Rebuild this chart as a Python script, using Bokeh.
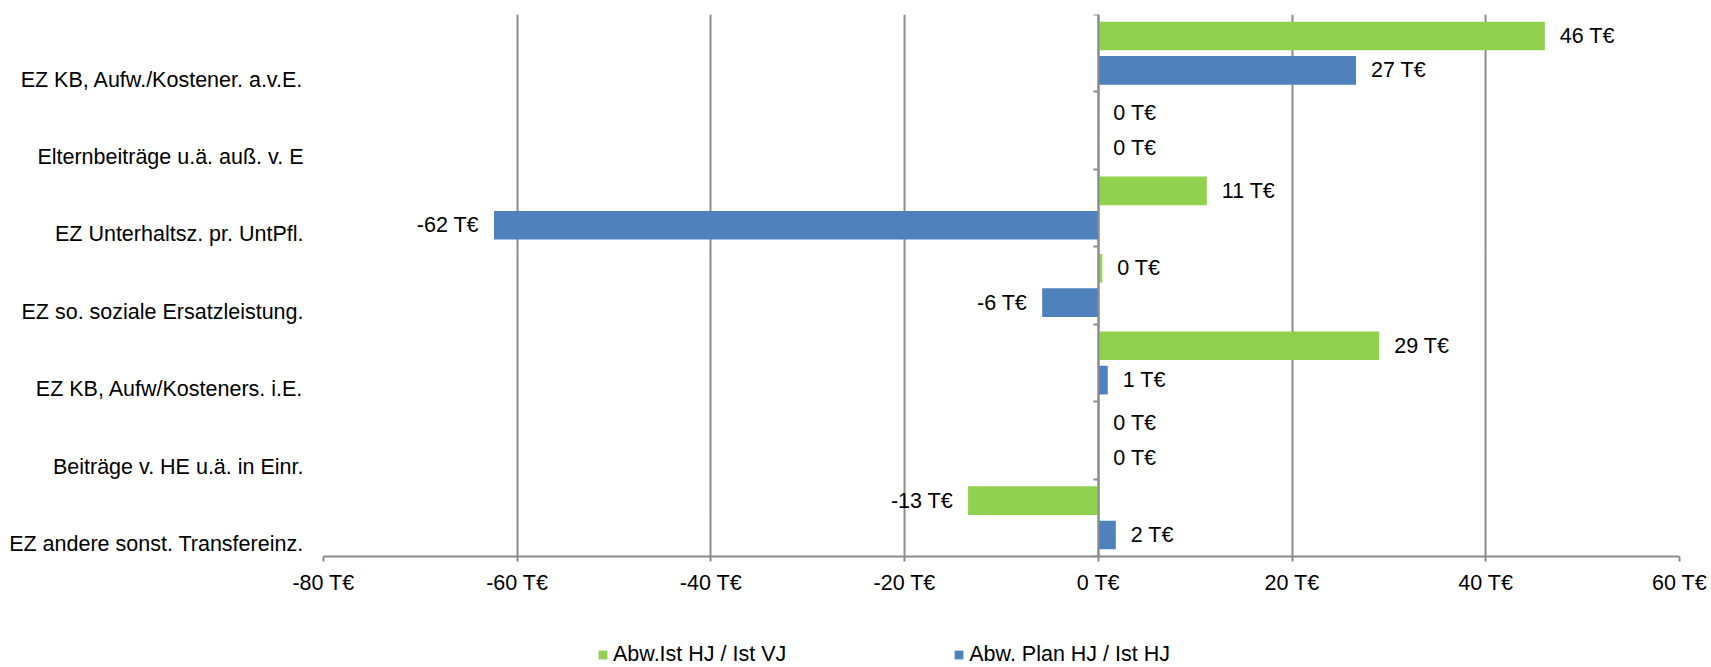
from bokeh.plotting import figure
from bokeh.models import (Range1d, FixedTicker, LinearAxis, Legend, LegendItem,
                          ColumnDataSource)
from bokeh.layouts import column
from bokeh.core.properties import value
from bokeh.embed import file_html
from bokeh.resources import INLINE

# ---- data ----
categories = [
    "EZ KB, Aufw./Kostener. a.v.E.",
    "Elternbeiträge u.ä. auß. v. E",
    "EZ Unterhaltsz. pr. UntPfl.",
    "EZ so. soziale Ersatzleistung.",
    "EZ KB, Aufw/Kosteners. i.E.",
    "Beiträge v. HE u.ä. in Einr.",
    "EZ andere sonst. Transfereinz.",
]
series_names = ["Abw.Ist HJ / Ist VJ", "Abw. Plan HJ / Ist HJ"]
ist_vj = [46.1, 0.0, 11.2, 0.4, 29.0, 0.0, -13.45]      # green
plan_hj = [26.6, 0.0, -62.4, -5.8, 0.97, 0.0, 1.8]      # blue
x_ticks = [-80, -60, -40, -20, 0, 20, 40, 60]

GREEN = "#92D050"
BLUE = "#4F81BD"
GRID = "#8c8c8c"
FONT = "Liberation Sans"
FS = "21.5px"

n = len(categories)
idx = list(range(n))
OFF = 0.222
BAR_H = 0.37
LABEL_SHIFT = 0.34

W = 1711
BL, BR = 323, 32
p = figure(width=W, height=611, output_backend="svg", toolbar_location=None,
           x_range=Range1d(x_ticks[0], x_ticks[-1]),
           y_range=Range1d(n - 0.5, -0.5),
           min_border_left=BL, min_border_right=BR, min_border_top=14,
           min_border_bottom=55, y_axis_location=None, x_axis_location=None)
p.outline_line_color = None

def label_text(vals):
    return [f"{round(v):.0f} T€" for v in vals]

yg = [i - OFF for i in idx]
yb = [i + OFF for i in idx]
src_g = ColumnDataSource(dict(y=yg, v=ist_vj))
src_b = ColumnDataSource(dict(y=yb, v=plan_hj))

p.hbar(y="y", right="v", left=0, height=BAR_H, source=src_g,
       fill_color=GREEN, line_color=None)
p.hbar(y="y", right="v", left=0, height=BAR_H, source=src_b,
       fill_color=BLUE, line_color=None)

# data labels
for vals, ys in ((ist_vj, yg), (plan_hj, yb)):
    lbls = label_text(vals)
    pos = [k for k, v in enumerate(vals) if v >= 0]
    neg = [k for k, v in enumerate(vals) if v < 0]
    if pos:
        p.text(x=[vals[k] for k in pos], y=[ys[k] for k in pos], text=[lbls[k] for k in pos],
               x_offset=15, text_align="left", text_baseline="middle",
               text_font=value(FONT), text_font_size=FS, text_color="black")
    if neg:
        p.text(x=[vals[k] for k in neg], y=[ys[k] for k in neg], text=[lbls[k] for k in neg],
               x_offset=-15, text_align="right", text_baseline="middle",
               text_font=value(FONT), text_font_size=FS, text_color="black")

# x axis at bottom
xaxis = LinearAxis(ticker=FixedTicker(ticks=x_ticks),
                   major_label_overrides={t: f"{t} T€" for t in x_ticks})
xaxis.axis_line_color = GRID
xaxis.axis_line_width = 2
xaxis.major_tick_line_color = GRID
xaxis.major_tick_line_width = 2
xaxis.major_tick_out = 5
xaxis.major_tick_in = 0
xaxis.minor_tick_line_color = None
xaxis.major_label_standoff = 9
xaxis.major_label_text_font = FONT
xaxis.major_label_text_font_size = FS
xaxis.major_label_text_color = "black"
p.add_layout(xaxis, "below")

# category labels on the left
label_ticks = [i + LABEL_SHIFT for i in idx]
yaxis = LinearAxis(ticker=FixedTicker(ticks=label_ticks),
                   major_label_overrides={t: c for t, c in zip(label_ticks, categories)})
yaxis.axis_line_color = None
yaxis.major_tick_line_color = None
yaxis.minor_tick_line_color = None
yaxis.major_tick_out = 0
yaxis.major_tick_in = 0
yaxis.major_label_standoff = 20
yaxis.major_label_text_font = FONT
yaxis.major_label_text_font_size = FS
yaxis.major_label_text_color = "black"
p.add_layout(yaxis, "left")

# category axis line at x = 0 with tick marks between categories
bounds = [i - 0.5 for i in range(n + 1)]
zaxis = LinearAxis(fixed_location=0, ticker=FixedTicker(ticks=bounds),
                   major_label_overrides={b: "" for b in bounds})
zaxis.axis_line_color = GRID
zaxis.axis_line_width = 2
zaxis.major_tick_line_color = GRID
zaxis.major_tick_line_width = 2
zaxis.major_tick_in = 5
zaxis.major_tick_out = 0
zaxis.minor_tick_line_color = None
zaxis.major_label_standoff = 0
p.add_layout(zaxis, "right")

# grid
p.xgrid.ticker = FixedTicker(ticks=x_ticks)
p.xgrid.grid_line_color = GRID
p.xgrid.grid_line_width = 2
p.ygrid.grid_line_color = None

# legend strip below the chart (frame aligned with the chart frame)
LH = 56
lf = figure(width=W, height=LH, output_backend="svg", toolbar_location=None,
            x_range=Range1d(0, 1), y_range=Range1d(0, 1),
            min_border_left=BL, min_border_right=BR, min_border_top=0,
            min_border_bottom=0, x_axis_location=None, y_axis_location=None)
lf.outline_line_color = None
lf.xgrid.grid_line_color = None
lf.ygrid.grid_line_color = None
# swatch renderers for the legend, their bars lie outside the visible range
lg = lf.hbar(y=[-5], right=[-4], left=-5, height=0.1, fill_color=GREEN, line_color=None)
lb = lf.hbar(y=[-5], right=[-4], left=-5, height=0.1, fill_color=BLUE, line_color=None)
legend = Legend(items=[LegendItem(label=series_names[0], renderers=[lg]),
                       LegendItem(label=series_names[1], renderers=[lb])],
                orientation="horizontal", location=(597 - BL, 0),
                glyph_width=11, glyph_height=11, label_standoff=5, spacing=167,
                padding=0, margin=0, border_line_color=None, background_fill_alpha=0,
                label_text_font=FONT, label_text_font_size=FS, label_text_color="black")
lf.add_layout(legend, "center")

layout = column(p, lf, spacing=0)
open("out.html", "w").write(file_html(layout, INLINE))
